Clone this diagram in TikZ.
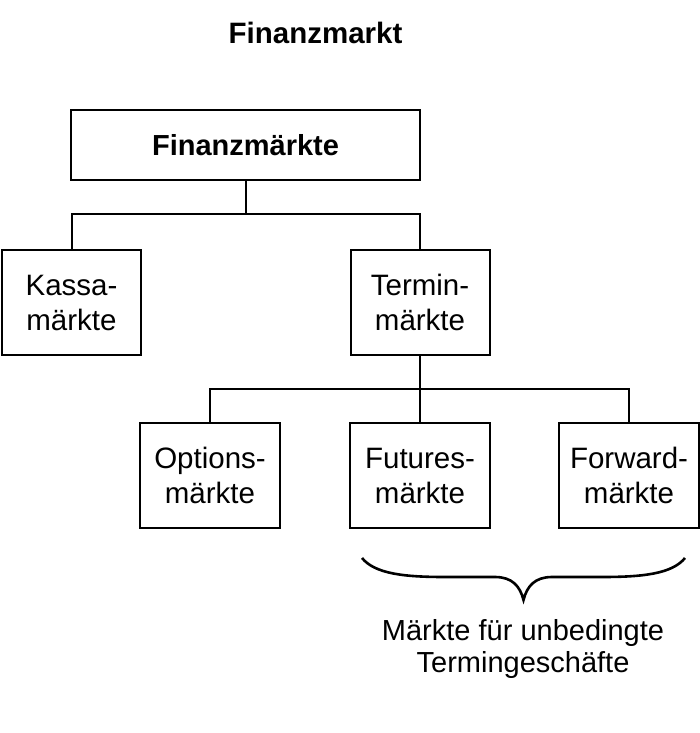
\documentclass[tikz,border=0pt]{standalone}
\usepackage{fontspec}
\setmainfont{Liberation Sans}
\begin{document}
\begin{tikzpicture}[x=1pt,y=-1pt,
  box/.style={draw,line width=2pt,align=center,inner sep=0pt,font=\fontsize{29.5}{35}\selectfont},
  conn/.style={line width=2pt}]
\useasboundingbox (0,0) rectangle (700,733);
\node[font=\bfseries\fontsize{29.5}{34}\selectfont] (title) at (315.5,33) {Finanzmarkt};
\node[box,minimum width=349pt,minimum height=70pt,font=\bfseries\fontsize{29}{34}\selectfont] (top) at (245.5,145) {Finanzmärkte};
\node[box,minimum width=139pt,minimum height=105pt] (kassa) at (71.5,302.5) {Kassa-\\märkte};
\node[box,minimum width=139pt,minimum height=105pt] (termin) at (420,302.5) {Termin-\\märkte};
\node[box,minimum width=140pt,minimum height=105pt] (options) at (210,475.5) {Options-\\märkte};
\node[box,minimum width=140pt,minimum height=105pt] (futures) at (420,475.5) {Futures-\\märkte};
\node[box,minimum width=140pt,minimum height=105pt] (forward) at (629,475.5) {Forward-\\märkte};
\coordinate (j1) at (245.5,214);
\coordinate (j2) at (420,389);
\draw[conn] (top.south) -- (j1);
\draw[conn] (kassa.north) |- (j1) -| (termin.north);
\draw[conn] (termin.south) -- (futures.north);
\draw[conn] (options.north) |- (j2) -| (forward.north);
\coordinate (bl) at (362,558);
\coordinate (br) at (685,558);
\coordinate (btip) at (523.5,600);
\draw[line width=2.6pt] (bl) .. controls (375,574) and (405,577) .. (445,577) -- (495,577) .. controls (512,577) and (520,586) .. (btip) .. controls (527,586) and (535,577) .. (552,577) -- (602,577) .. controls (642,577) and (672,574) .. (br);
\node[align=center,font=\fontsize{29}{32}\selectfont] (lbl) at (523,649) {Märkte für unbedingte\\Termingeschäfte};
\end{tikzpicture}
\end{document}
